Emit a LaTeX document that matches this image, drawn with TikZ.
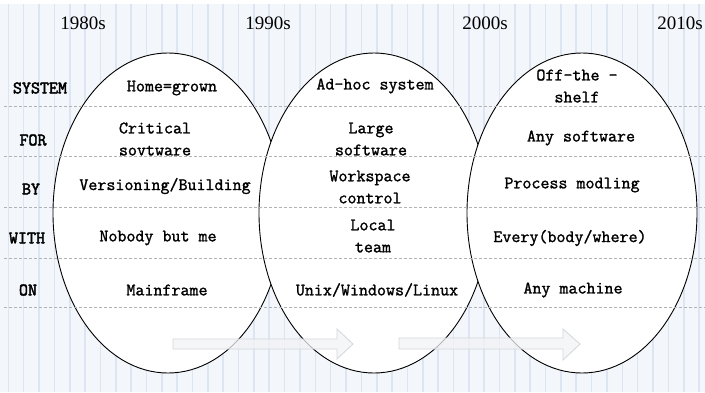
\documentclass[tikz,border=0pt]{standalone}
\usepackage{fontspec}
\setmainfont{Liberation Serif}
\newfontfamily\cellfont{Latin Modern Mono}[FakeBold=1.4]
\newfontfamily\rowfont{Latin Modern Mono}[FakeBold=2.6]
\usetikzlibrary{calc}
\definecolor{Paper}{HTML}{F3F6FB}
\definecolor{Stripe}{HTML}{DCE5F1}
\definecolor{Rule}{HTML}{B0B2B5}
\definecolor{Shade}{HTML}{F2F3F5}
\definecolor{ShadeLine}{HTML}{D3D7DD}
\tikzset{
  cell/.style={font={\cellfont\fontsize{17.5}{22}\selectfont},align=center,inner sep=0pt},
  rowlabel/.style={font={\rowfont\fontsize{17.5}{22}\selectfont},inner sep=0pt},
  decade/.style={font={\fontsize{19}{22}\selectfont},inner sep=0pt},
  era/.style={draw=black,line width=.9pt,fill=white},
  flow/.style={draw=ShadeLine,fill=Shade,fill opacity=.75,line width=.8pt},
}

\begin{document}
\begin{tikzpicture}[x=1pt,y=-1pt]
\useasboundingbox (0,0) rectangle (705,392);
\fill[Paper] (0,4) rectangle (705,392);
\foreach \i in {0,...,45}
  \draw[Stripe,line width=1.6pt] ({8.3+15.35*\i},4) -- ++(0,388);

% three eras
\draw[era] (168,213) ellipse [x radius=115,y radius=160];
\draw[era] (374,213) ellipse [x radius=115,y radius=160];
\draw[era] (582,213) ellipse [x radius=115,y radius=160];

\foreach \y in {106,156,207,258,307}
  \draw[Rule,line width=.9pt,dash pattern=on 3pt off 2pt] (4,\y) -- (705,\y);

\draw[flow] (173,339) -- (337,339) -- (337,329) -- (353,344) -- (337,359) -- (337,349) -- (173,349) -- cycle;
\draw[flow] (399,338) -- (563,338) -- (563,329) -- (580,344) -- (563,360) -- (563,349) -- (399,349) -- cycle;

\node[decade] (d80) at (83,23) {1980s};
\node[decade] (d90) at (268,23) {1990s};
\node[decade] (d00) at (485,23) {2000s};
\node[decade] (d10) at (680,23) {2010s};

\node[rowlabel] (system) at (40,88) {SYSTEM};
\node[rowlabel] (for) at (33,140) {FOR};
\node[rowlabel] (by) at (31,189) {BY};
\node[rowlabel] (with) at (27,238) {WITH};
\node[rowlabel] (on) at (28,290) {ON};

\node[cell] (sys80) at (172,88) {Home=grown};
\node[cell] (for80) at (155,139) {Critical\\sovtware};
\node[cell] (by80) at (165,186) {Versioning/Building};
\node[cell] (with80) at (158,238) {Nobody but me};
\node[cell] (on80) at (167,290) {Mainframe};

\node[cell] (sys90) at (375,86) {Ad-hoc system};
\node[cell] (for90) at (371,139) {Large\\software};
\node[cell] (by90) at (370,187) {Workspace\\control};
\node[cell] (with90) at (373,236) {Local\\team};
\node[cell] (on90) at (377,290) {Unix/Windows/Linux};

\node[cell] (sys00) at (577,86) {Off-the -\\shelf};
\node[cell] (for00) at (581,138) {Any software};
\node[cell] (by00) at (572,185) {Process modling};
\node[cell] (with00) at (570,238) {Every(body/where)};
\node[cell] (on00) at (573,290) {Any machine};
\end{tikzpicture}
\end{document}
